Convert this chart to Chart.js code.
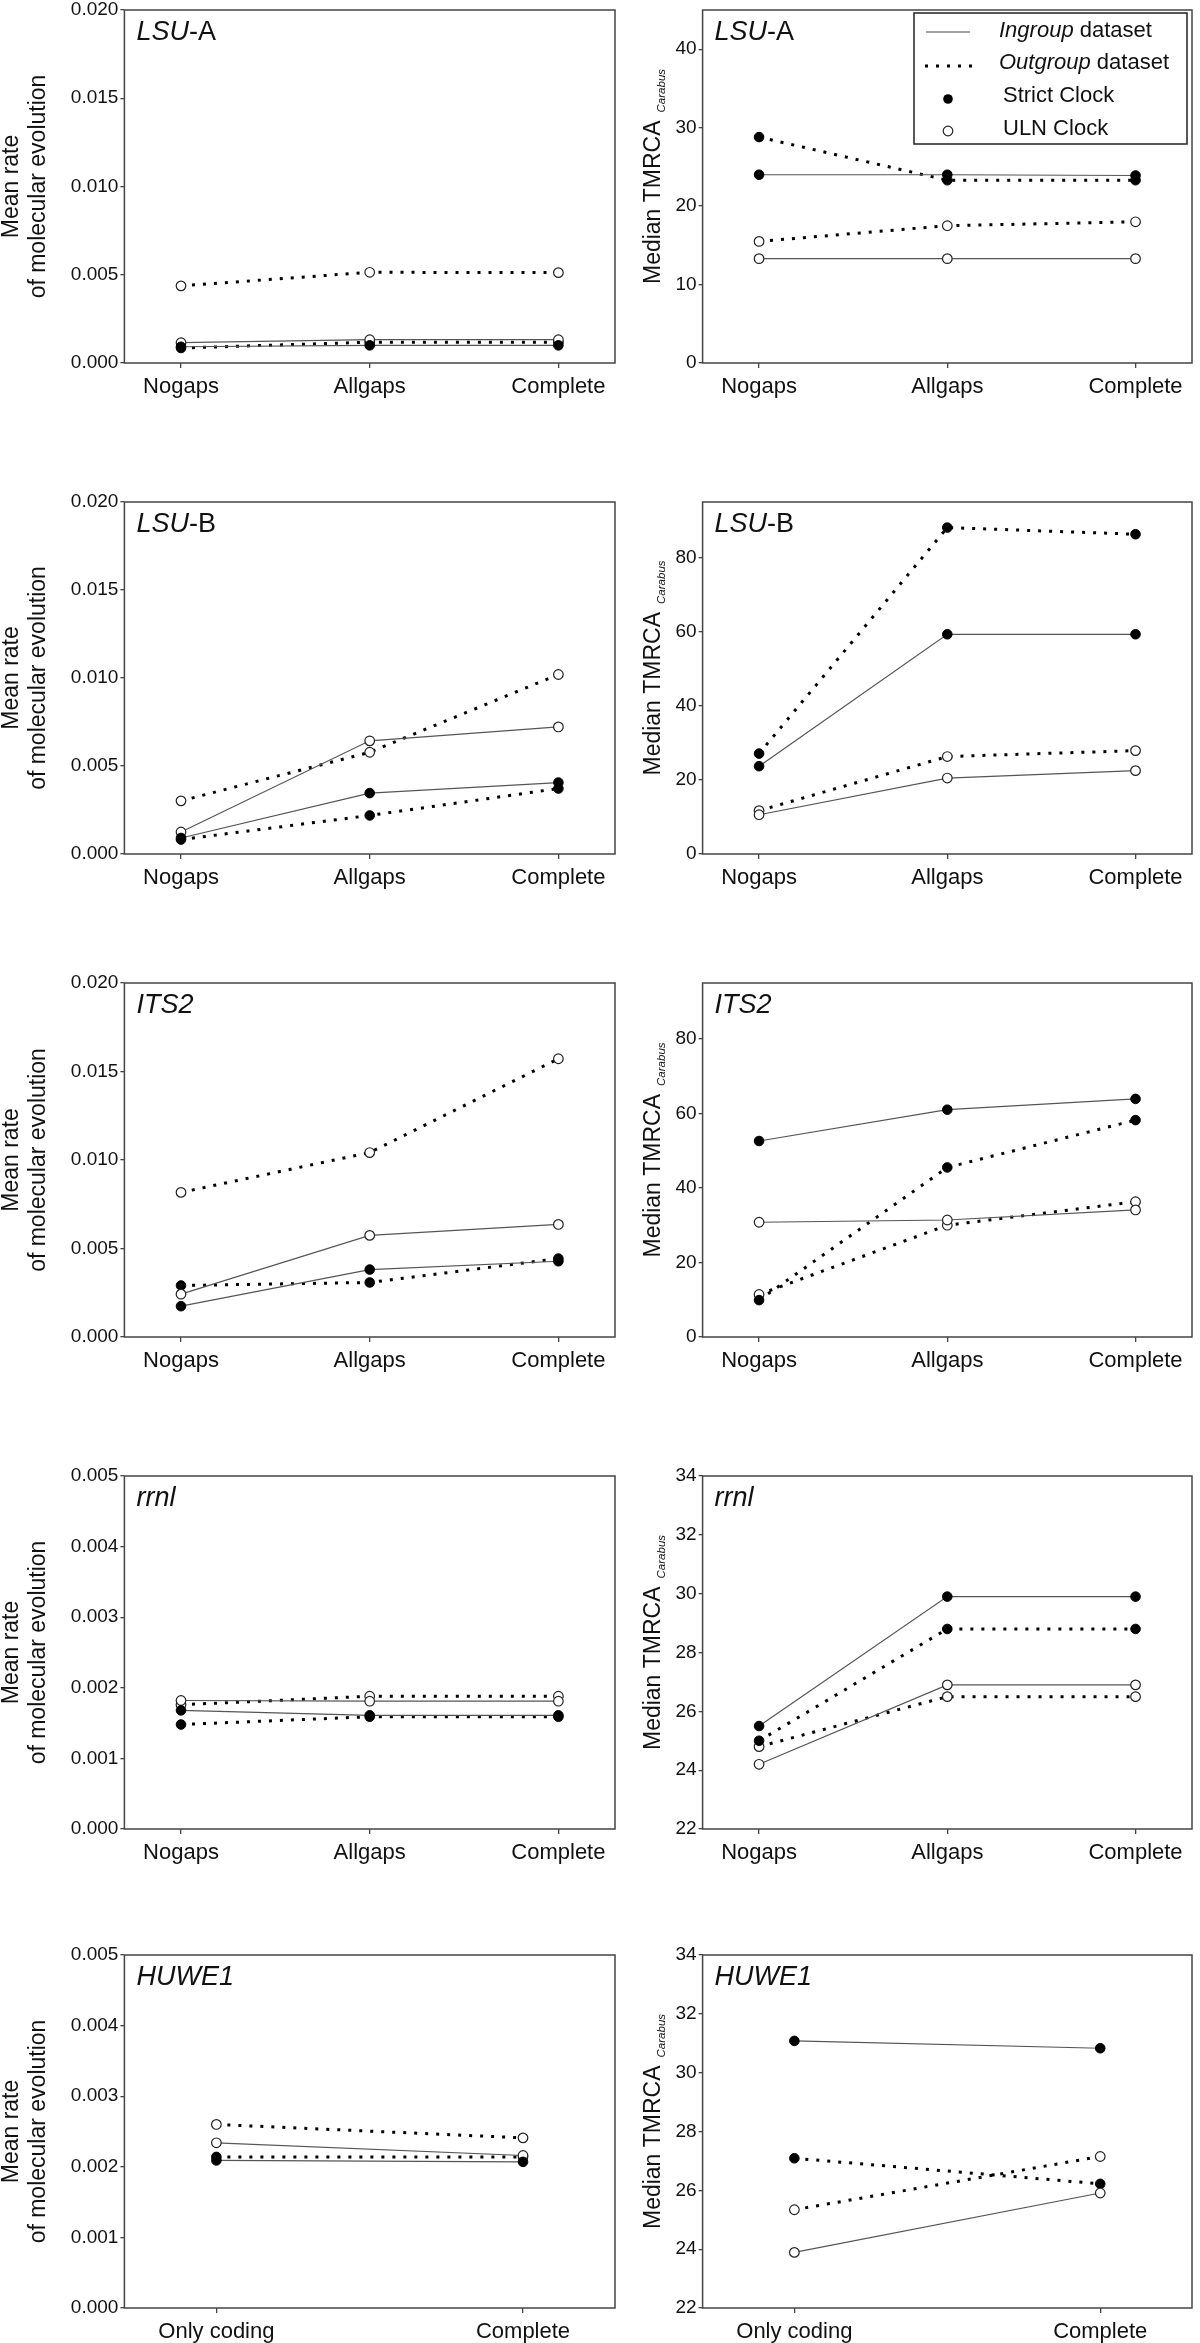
<!DOCTYPE html>
<html>
<head>
<meta charset="utf-8">
<title>Rates and TMRCA by dataset</title>
<script src="https://cdn.jsdelivr.net/npm/chart.js@4.4.0/dist/chart.umd.min.js"></script>
<style>
    html, body { margin: 0; padding: 0; background: #fff; }
    #page { position: relative; width: 1200px; height: 2343px; overflow: hidden; }
    #page canvas { position: absolute; }
</style>
</head>
<body>
<div id="page"></div>
<script>
// Categories
const gapCats = ['Nogaps', 'Allgaps', 'Complete'];
const codingCats = ['Only coding', 'Complete'];

// Tick labels
const rateTicksWide = [0, 0.005, 0.010, 0.015, 0.020];
const rateTicksNarrow = [0, 0.001, 0.002, 0.003, 0.004, 0.005];
const ageTicksA = [0, 10, 20, 30, 40];
const ageTicksB = [0, 20, 40, 60, 80];
const ageTicksC = [22, 24, 26, 28, 30, 32, 34];

// LSU-A
const lsuARateInStrict = [0.00092, 0.00100, 0.00100];
const lsuARateInUln = [0.00115, 0.00132, 0.00132];
const lsuARateOutStrict = [0.00085, 0.00118, 0.00118];
const lsuARateOutUln = [0.00437, 0.00514, 0.00512];
const lsuAAgeInStrict = [24.0, 24.0, 23.9];
const lsuAAgeInUln = [13.3, 13.3, 13.3];
const lsuAAgeOutStrict = [28.8, 23.3, 23.3];
const lsuAAgeOutUln = [15.5, 17.5, 18.0];

// LSU-B
const lsuBRateInStrict = [0.00091, 0.00346, 0.00406];
const lsuBRateInUln = [0.00125, 0.00643, 0.00722];
const lsuBRateOutStrict = [0.00082, 0.00219, 0.00372];
const lsuBRateOutUln = [0.00302, 0.00578, 0.01020];
const lsuBAgeInStrict = [23.7, 59.3, 59.3];
const lsuBAgeInUln = [10.6, 20.5, 22.5];
const lsuBAgeOutStrict = [27.1, 88.1, 86.3];
const lsuBAgeOutUln = [11.7, 26.3, 27.9];

// ITS2
const its2RateInStrict = [0.00174, 0.00381, 0.00428];
const its2RateInUln = [0.00242, 0.00574, 0.00636];
const its2RateOutStrict = [0.00291, 0.00308, 0.00443];
const its2RateOutUln = [0.00817, 0.01042, 0.01572];
const its2AgeInStrict = [52.6, 61.0, 63.9];
const its2AgeInUln = [30.8, 31.4, 34.1];
const its2AgeOutStrict = [9.9, 45.5, 58.2];
const its2AgeOutUln = [11.4, 30.0, 36.3];

// rrnl
const rrnlRateInStrict = [0.00168, 0.00161, 0.00161];
const rrnlRateInUln = [0.00182, 0.00181, 0.00181];
const rrnlRateOutStrict = [0.00148, 0.00159, 0.00159];
const rrnlRateOutUln = [0.00176, 0.00188, 0.00188];
const rrnlAgeInStrict = [25.5, 29.9, 29.9];
const rrnlAgeInUln = [24.2, 26.9, 26.9];
const rrnlAgeOutStrict = [25.0, 28.8, 28.8];
const rrnlAgeOutUln = [24.8, 26.5, 26.5];

// HUWE1
const huweRateInStrict = [0.00209, 0.00207];
const huweRateInUln = [0.00234, 0.00216];
const huweRateOutStrict = [0.00214, 0.00214];
const huweRateOutUln = [0.00260, 0.00241];
const huweAgeInStrict = [31.08, 30.83];
const huweAgeInUln = [23.89, 25.91];
const huweAgeOutStrict = [27.09, 26.22];
const huweAgeOutUln = [25.34, 27.15];

// Layout (page pixels)
const rowTops = [10, 502, 983, 1476, 1955];
const rowBottoms = [363, 854, 1337, 1829, 2308];
const FONT = "'Liberation Sans', Arial, Helvetica, sans-serif";
const INK = '#111';
const FRAME = '#444';

const panels = [
    { row: 0, side: 'left', label: [['LSU', true], ['-A', false]], cats: gapCats, ticks: rateTicksWide, min: 0, max: 0.020,
      series: [lsuARateInStrict, lsuARateInUln, lsuARateOutStrict, lsuARateOutUln] },
    { row: 0, side: 'right', label: [['LSU', true], ['-A', false]], cats: gapCats, ticks: ageTicksA, min: 0, max: 45, legend: true,
      series: [lsuAAgeInStrict, lsuAAgeInUln, lsuAAgeOutStrict, lsuAAgeOutUln] },
    { row: 1, side: 'left', label: [['LSU', true], ['-B', false]], cats: gapCats, ticks: rateTicksWide, min: 0, max: 0.020,
      series: [lsuBRateInStrict, lsuBRateInUln, lsuBRateOutStrict, lsuBRateOutUln] },
    { row: 1, side: 'right', label: [['LSU', true], ['-B', false]], cats: gapCats, ticks: ageTicksB, min: 0, max: 95,
      series: [lsuBAgeInStrict, lsuBAgeInUln, lsuBAgeOutStrict, lsuBAgeOutUln] },
    { row: 2, side: 'left', label: [['ITS2', true]], cats: gapCats, ticks: rateTicksWide, min: 0, max: 0.020,
      series: [its2RateInStrict, its2RateInUln, its2RateOutStrict, its2RateOutUln] },
    { row: 2, side: 'right', label: [['ITS2', true]], cats: gapCats, ticks: ageTicksB, min: 0, max: 95,
      series: [its2AgeInStrict, its2AgeInUln, its2AgeOutStrict, its2AgeOutUln] },
    { row: 3, side: 'left', label: [['rrnl', true]], cats: gapCats, ticks: rateTicksNarrow, min: 0, max: 0.005,
      series: [rrnlRateInStrict, rrnlRateInUln, rrnlRateOutStrict, rrnlRateOutUln] },
    { row: 3, side: 'right', label: [['rrnl', true]], cats: gapCats, ticks: ageTicksC, min: 22, max: 34,
      series: [rrnlAgeInStrict, rrnlAgeInUln, rrnlAgeOutStrict, rrnlAgeOutUln] },
    { row: 4, side: 'left', label: [['HUWE1', true]], cats: codingCats, ticks: rateTicksNarrow, min: 0, max: 0.005,
      series: [huweRateInStrict, huweRateInUln, huweRateOutStrict, huweRateOutUln] },
    { row: 4, side: 'right', label: [['HUWE1', true]], cats: codingCats, ticks: ageTicksC, min: 22, max: 34,
      series: [huweAgeInStrict, huweAgeInUln, huweAgeOutStrict, huweAgeOutUln] }
];

function toPoints(values) {
    return values.map((v, i) => ({ x: i, y: v }));
}

function makeDatasets(series) {
    const solid = { borderColor: '#555', borderWidth: 1.2 };
    const dotted = { borderColor: '#000', borderWidth: 3, borderDash: [3, 8], borderCapStyle: 'butt' };
    const filled = { pointRadius: 4.8, pointBackgroundColor: '#000', pointBorderColor: '#000', pointBorderWidth: 1 };
    const open = { pointRadius: 4.8, pointBackgroundColor: '#fff', pointBorderColor: '#222', pointBorderWidth: 1.2 };
    return [
        Object.assign({ label: 'Ingroup strict', data: toPoints(series[0]) }, solid, filled),
        Object.assign({ label: 'Ingroup ULN', data: toPoints(series[1]) }, solid, open),
        Object.assign({ label: 'Outgroup strict', data: toPoints(series[2]) }, dotted, filled),
        Object.assign({ label: 'Outgroup ULN', data: toPoints(series[3]) }, dotted, open)
    ];
}

// Draws runs of text with mixed italic / regular pieces
function drawRuns(ctx, runs, x, y, size) {
    let cx = x;
    runs.forEach(([text, italic]) => {
        ctx.font = (italic ? 'italic ' : '') + size + 'px ' + FONT;
        ctx.fillText(text, cx, y);
        cx += ctx.measureText(text).width;
    });
}

const decorPlugin = {
    id: 'decor',
    afterDraw(chart, args, opts) {
        const ctx = chart.ctx;
        const a = chart.chartArea;
        const p = opts.panel;
        ctx.save();

        // frame
        ctx.strokeStyle = FRAME;
        ctx.lineWidth = 1.5;
        ctx.strokeRect(a.left, a.top, a.right - a.left, a.bottom - a.top);

        // panel label
        ctx.fillStyle = INK;
        ctx.textBaseline = 'alphabetic';
        ctx.textAlign = 'left';
        drawRuns(ctx, p.label, a.left + 12, a.top + 30, 27);

        // y axis title
        const midY = (a.top + a.bottom) / 2;
        if (p.side === 'left') {
            ctx.save();
            ctx.font = '23px ' + FONT;
            ctx.textAlign = 'center';
            ctx.translate(a.left - 106, midY);
            ctx.rotate(-Math.PI / 2);
            ctx.fillText('Mean rate', 0, 0);
            ctx.restore();
            ctx.save();
            ctx.font = '23px ' + FONT;
            ctx.textAlign = 'center';
            ctx.translate(a.left - 79, midY);
            ctx.rotate(-Math.PI / 2);
            ctx.fillText('of molecular evolution', 0, 0);
            ctx.restore();
        } else {
            ctx.save();
            ctx.translate(a.left - 43, midY - 10);
            ctx.rotate(-Math.PI / 2);
            ctx.font = '23px ' + FONT;
            const main = 'Median TMRCA';
            const w1 = ctx.measureText(main).width;
            ctx.font = 'italic 11.5px ' + FONT;
            const w2 = ctx.measureText('Carabus').width;
            const start = -(w1 + 8 + w2) / 2;
            ctx.textAlign = 'left';
            ctx.font = '23px ' + FONT;
            ctx.fillText(main, start, 0);
            ctx.font = 'italic 11.5px ' + FONT;
            ctx.fillText('Carabus', start + w1 + 8, 5);
            ctx.restore();
        }

        if (p.legend) {
            drawLegend(ctx, a);
        }
        ctx.restore();
    }
};

function drawLegend(ctx, a) {
    const left = a.right - 278;
    const top = a.top + 3;
    ctx.save();
    ctx.fillStyle = '#fff';
    ctx.fillRect(left, top, 273, 131);
    ctx.strokeStyle = '#222';
    ctx.lineWidth = 1.5;
    ctx.strokeRect(left, top, 273, 131);

    // solid sample
    ctx.strokeStyle = '#444';
    ctx.lineWidth = 1.2;
    ctx.beginPath();
    ctx.moveTo(left + 12, top + 19);
    ctx.lineTo(left + 56, top + 19);
    ctx.stroke();

    // dotted sample
    ctx.strokeStyle = '#000';
    ctx.lineWidth = 3;
    ctx.setLineDash([3, 8]);
    ctx.beginPath();
    ctx.moveTo(left + 11, top + 53);
    ctx.lineTo(left + 62, top + 53);
    ctx.stroke();
    ctx.setLineDash([]);

    // markers
    ctx.fillStyle = '#000';
    ctx.beginPath();
    ctx.arc(left + 34, top + 86, 4.8, 0, Math.PI * 2);
    ctx.fill();
    ctx.fillStyle = '#fff';
    ctx.strokeStyle = '#222';
    ctx.lineWidth = 1.2;
    ctx.beginPath();
    ctx.arc(left + 34, top + 118, 4.8, 0, Math.PI * 2);
    ctx.fill();
    ctx.stroke();

    ctx.fillStyle = INK;
    ctx.textBaseline = 'middle';
    ctx.textAlign = 'left';
    drawRuns(ctx, [['Ingroup', true], [' dataset', false]], left + 85, top + 18, 22);
    drawRuns(ctx, [['Outgroup', true], [' dataset', false]], left + 85, top + 50, 22);
    drawRuns(ctx, [['Strict Clock', false]], left + 89, top + 83, 22);
    drawRuns(ctx, [['ULN Clock', false]], left + 89, top + 116, 22);
    ctx.restore();
}

function buildPanel(p) {
    const isLeft = p.side === 'left';
    const top = rowTops[p.row];
    const bottom = rowBottoms[p.row];
    const canvasLeft = isLeft ? 0 : 625;
    const axisX = isLeft ? 124.4 : 702.6;
    const areaRight = isLeft ? 616 : 1193;
    const padTop = 14;
    const padRight = 5;
    const xAxisH = 46;

    const canvas = document.createElement('canvas');
    canvas.width = areaRight + padRight - canvasLeft;
    canvas.height = padTop + (bottom - top) + xAxisH;
    canvas.style.left = canvasLeft + 'px';
    canvas.style.top = (top - padTop) + 'px';
    canvas.style.width = canvas.width + 'px';
    canvas.style.height = canvas.height + 'px';
    document.getElementById('page').appendChild(canvas);

    const n = p.cats.length;
    const decimals = isLeft ? 3 : 0;

    new Chart(canvas.getContext('2d'), {
        type: 'line',
        data: { datasets: makeDatasets(p.series) },
        options: {
            responsive: false,
            animation: false,
            devicePixelRatio: 1,
            layout: { padding: { top: padTop, right: padRight, left: 0, bottom: 0 } },
            plugins: {
                legend: { display: false },
                tooltip: { enabled: false },
                decor: { panel: p }
            },
            scales: {
                x: {
                    type: 'linear',
                    min: -0.3,
                    max: n - 1 + 0.3,
                    afterBuildTicks: s => { s.ticks = p.cats.map((c, i) => ({ value: i })); },
                    afterFit: s => { s.height = xAxisH; },
                    border: { display: false },
                    grid: { display: true, drawOnChartArea: false, drawTicks: true, tickLength: 5, color: FRAME, lineWidth: 1.3 },
                    ticks: {
                        autoSkip: false,
                        maxRotation: 0,
                        padding: 6,
                        color: INK,
                        font: { family: FONT, size: 22 },
                        callback: v => p.cats[v]
                    }
                },
                y: {
                    type: 'linear',
                    min: p.min,
                    max: p.max,
                    afterBuildTicks: s => { s.ticks = p.ticks.map(v => ({ value: v })); },
                    afterFit: s => { s.width = axisX - canvasLeft; },
                    border: { display: false },
                    grid: { display: true, drawOnChartArea: false, drawTicks: true, tickLength: 4, color: FRAME, lineWidth: 1.3 },
                    ticks: {
                        padding: 2,
                        color: INK,
                        font: { family: FONT, size: 19 },
                        callback: v => v.toFixed(decimals)
                    }
                }
            }
        },
        plugins: [decorPlugin]
    });
}

panels.forEach(buildPanel);
</script>
</body>
</html>
